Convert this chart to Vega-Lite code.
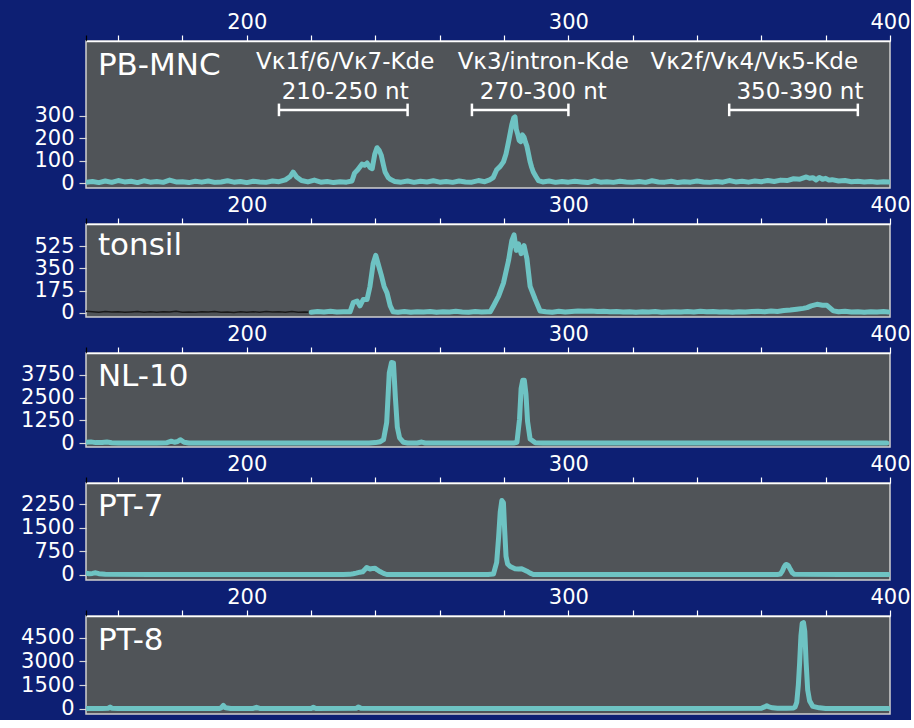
{
  "$schema": "https://vega.github.io/schema/vega-lite/v6.json",
  "background": "#0d1f73",
  "padding": {"left": 19, "top": 10, "right": 0, "bottom": 0},
  "spacing": 36,
  "bounds": "flush",
  "config": {
    "font": "DejaVu Sans",
    "view": {"fill": "#505458", "stroke": "#cfcfcf", "strokeWidth": 1.5},
    "axis": {"labelColor": "white", "labelFont": "DejaVu Sans", "labelFontSize": 21, "tickColor": "white", "domainColor": "white", "grid": false, "title": null, "tickWidth": 1.2, "domainWidth": 1.5},
    "axisY": {"labelOverlap": false, "format": "d", "tickCount": 10},
    "line": {"color": "#6ec3c3", "strokeWidth": 5, "strokeJoin": "round", "strokeCap": "round"}
  },
  "datasets": {
    "traces": [
      {"p":"PB-MNC","s":"m","x":150,"y":5},{"p":"PB-MNC","s":"m","x":152,"y":8},{"p":"PB-MNC","s":"m","x":154,"y":3},{"p":"PB-MNC","s":"m","x":156,"y":10},{"p":"PB-MNC","s":"m","x":158,"y":4},{"p":"PB-MNC","s":"m","x":160,"y":12},{"p":"PB-MNC","s":"m","x":162,"y":6},{"p":"PB-MNC","s":"m","x":164,"y":9},{"p":"PB-MNC","s":"m","x":166,"y":3},{"p":"PB-MNC","s":"m","x":168,"y":11},{"p":"PB-MNC","s":"m","x":170,"y":5},{"p":"PB-MNC","s":"m","x":172,"y":8},{"p":"PB-MNC","s":"m","x":174,"y":4},{"p":"PB-MNC","s":"m","x":176,"y":14},{"p":"PB-MNC","s":"m","x":178,"y":6},{"p":"PB-MNC","s":"m","x":180,"y":7},{"p":"PB-MNC","s":"m","x":182,"y":3},{"p":"PB-MNC","s":"m","x":184,"y":9},{"p":"PB-MNC","s":"m","x":186,"y":5},{"p":"PB-MNC","s":"m","x":188,"y":10},{"p":"PB-MNC","s":"m","x":190,"y":4},{"p":"PB-MNC","s":"m","x":192,"y":6},{"p":"PB-MNC","s":"m","x":194,"y":11},{"p":"PB-MNC","s":"m","x":196,"y":5},{"p":"PB-MNC","s":"m","x":198,"y":8},{"p":"PB-MNC","s":"m","x":200,"y":3},{"p":"PB-MNC","s":"m","x":202,"y":9},{"p":"PB-MNC","s":"m","x":204,"y":6},{"p":"PB-MNC","s":"m","x":206,"y":4},{"p":"PB-MNC","s":"m","x":208,"y":10},{"p":"PB-MNC","s":"m","x":210,"y":7},{"p":"PB-MNC","s":"m","x":212,"y":15},{"p":"PB-MNC","s":"m","x":213.5,"y":30},{"p":"PB-MNC","s":"m","x":214.4,"y":50},{"p":"PB-MNC","s":"m","x":215.5,"y":28},{"p":"PB-MNC","s":"m","x":217,"y":12},{"p":"PB-MNC","s":"m","x":219,"y":6},{"p":"PB-MNC","s":"m","x":221,"y":14},{"p":"PB-MNC","s":"m","x":223,"y":5},{"p":"PB-MNC","s":"m","x":225,"y":8},{"p":"PB-MNC","s":"m","x":227,"y":3},{"p":"PB-MNC","s":"m","x":229,"y":7},{"p":"PB-MNC","s":"m","x":231,"y":5},{"p":"PB-MNC","s":"m","x":232.7,"y":10},{"p":"PB-MNC","s":"m","x":233.5,"y":45},{"p":"PB-MNC","s":"m","x":234.5,"y":60},{"p":"PB-MNC","s":"m","x":235.8,"y":85},{"p":"PB-MNC","s":"m","x":236.6,"y":80},{"p":"PB-MNC","s":"m","x":237.4,"y":90},{"p":"PB-MNC","s":"m","x":238.3,"y":70},{"p":"PB-MNC","s":"m","x":239,"y":65},{"p":"PB-MNC","s":"m","x":239.8,"y":130},{"p":"PB-MNC","s":"m","x":240.5,"y":158},{"p":"PB-MNC","s":"m","x":241.2,"y":145},{"p":"PB-MNC","s":"m","x":241.8,"y":125},{"p":"PB-MNC","s":"m","x":242.5,"y":80},{"p":"PB-MNC","s":"m","x":243,"y":50},{"p":"PB-MNC","s":"m","x":244,"y":25},{"p":"PB-MNC","s":"m","x":244.6,"y":18},{"p":"PB-MNC","s":"m","x":246,"y":8},{"p":"PB-MNC","s":"m","x":248,"y":5},{"p":"PB-MNC","s":"m","x":250,"y":10},{"p":"PB-MNC","s":"m","x":252,"y":4},{"p":"PB-MNC","s":"m","x":254,"y":9},{"p":"PB-MNC","s":"m","x":256,"y":6},{"p":"PB-MNC","s":"m","x":258,"y":11},{"p":"PB-MNC","s":"m","x":260,"y":5},{"p":"PB-MNC","s":"m","x":262,"y":8},{"p":"PB-MNC","s":"m","x":264,"y":4},{"p":"PB-MNC","s":"m","x":266,"y":10},{"p":"PB-MNC","s":"m","x":268,"y":6},{"p":"PB-MNC","s":"m","x":270,"y":5},{"p":"PB-MNC","s":"m","x":272,"y":12},{"p":"PB-MNC","s":"m","x":274,"y":7},{"p":"PB-MNC","s":"m","x":275.5,"y":15},{"p":"PB-MNC","s":"m","x":276.6,"y":25},{"p":"PB-MNC","s":"m","x":277.7,"y":60},{"p":"PB-MNC","s":"m","x":278.8,"y":75},{"p":"PB-MNC","s":"m","x":279.8,"y":95},{"p":"PB-MNC","s":"m","x":280.6,"y":130},{"p":"PB-MNC","s":"m","x":281.4,"y":185},{"p":"PB-MNC","s":"m","x":282,"y":230},{"p":"PB-MNC","s":"m","x":282.4,"y":260},{"p":"PB-MNC","s":"m","x":283,"y":290},{"p":"PB-MNC","s":"m","x":283.4,"y":295},{"p":"PB-MNC","s":"m","x":283.8,"y":240},{"p":"PB-MNC","s":"m","x":284.2,"y":220},{"p":"PB-MNC","s":"m","x":284.7,"y":190},{"p":"PB-MNC","s":"m","x":285.2,"y":185},{"p":"PB-MNC","s":"m","x":285.7,"y":215},{"p":"PB-MNC","s":"m","x":286.2,"y":205},{"p":"PB-MNC","s":"m","x":286.7,"y":180},{"p":"PB-MNC","s":"m","x":287.1,"y":165},{"p":"PB-MNC","s":"m","x":287.6,"y":130},{"p":"PB-MNC","s":"m","x":288.1,"y":95},{"p":"PB-MNC","s":"m","x":288.6,"y":70},{"p":"PB-MNC","s":"m","x":289.1,"y":50},{"p":"PB-MNC","s":"m","x":289.9,"y":30},{"p":"PB-MNC","s":"m","x":290.7,"y":12},{"p":"PB-MNC","s":"m","x":292,"y":6},{"p":"PB-MNC","s":"m","x":294,"y":10},{"p":"PB-MNC","s":"m","x":296,"y":4},{"p":"PB-MNC","s":"m","x":298,"y":8},{"p":"PB-MNC","s":"m","x":300,"y":5},{"p":"PB-MNC","s":"m","x":302,"y":9},{"p":"PB-MNC","s":"m","x":304,"y":6},{"p":"PB-MNC","s":"m","x":306,"y":3},{"p":"PB-MNC","s":"m","x":308,"y":11},{"p":"PB-MNC","s":"m","x":310,"y":5},{"p":"PB-MNC","s":"m","x":312,"y":7},{"p":"PB-MNC","s":"m","x":314,"y":4},{"p":"PB-MNC","s":"m","x":316,"y":9},{"p":"PB-MNC","s":"m","x":318,"y":6},{"p":"PB-MNC","s":"m","x":320,"y":5},{"p":"PB-MNC","s":"m","x":322,"y":8},{"p":"PB-MNC","s":"m","x":324,"y":4},{"p":"PB-MNC","s":"m","x":326,"y":11},{"p":"PB-MNC","s":"m","x":328,"y":6},{"p":"PB-MNC","s":"m","x":330,"y":5},{"p":"PB-MNC","s":"m","x":332,"y":9},{"p":"PB-MNC","s":"m","x":334,"y":3},{"p":"PB-MNC","s":"m","x":336,"y":7},{"p":"PB-MNC","s":"m","x":338,"y":5},{"p":"PB-MNC","s":"m","x":340,"y":10},{"p":"PB-MNC","s":"m","x":342,"y":6},{"p":"PB-MNC","s":"m","x":344,"y":4},{"p":"PB-MNC","s":"m","x":346,"y":8},{"p":"PB-MNC","s":"m","x":348,"y":5},{"p":"PB-MNC","s":"m","x":350,"y":12},{"p":"PB-MNC","s":"m","x":352,"y":6},{"p":"PB-MNC","s":"m","x":354,"y":9},{"p":"PB-MNC","s":"m","x":356,"y":5},{"p":"PB-MNC","s":"m","x":358,"y":10},{"p":"PB-MNC","s":"m","x":360,"y":7},{"p":"PB-MNC","s":"m","x":362,"y":12},{"p":"PB-MNC","s":"m","x":364,"y":8},{"p":"PB-MNC","s":"m","x":366,"y":14},{"p":"PB-MNC","s":"m","x":368,"y":12},{"p":"PB-MNC","s":"m","x":370,"y":20},{"p":"PB-MNC","s":"m","x":372,"y":18},{"p":"PB-MNC","s":"m","x":374,"y":28},{"p":"PB-MNC","s":"m","x":375,"y":22},{"p":"PB-MNC","s":"m","x":376,"y":25},{"p":"PB-MNC","s":"m","x":377,"y":15},{"p":"PB-MNC","s":"m","x":378,"y":26},{"p":"PB-MNC","s":"m","x":379,"y":18},{"p":"PB-MNC","s":"m","x":380,"y":22},{"p":"PB-MNC","s":"m","x":381,"y":14},{"p":"PB-MNC","s":"m","x":382,"y":16},{"p":"PB-MNC","s":"m","x":384,"y":10},{"p":"PB-MNC","s":"m","x":386,"y":12},{"p":"PB-MNC","s":"m","x":388,"y":7},{"p":"PB-MNC","s":"m","x":390,"y":9},{"p":"PB-MNC","s":"m","x":392,"y":6},{"p":"PB-MNC","s":"m","x":394,"y":8},{"p":"PB-MNC","s":"m","x":396,"y":5},{"p":"PB-MNC","s":"m","x":398,"y":7},{"p":"PB-MNC","s":"m","x":400,"y":6},

      {"p":"tonsil","s":"b","x":150,"y":12},{"p":"tonsil","s":"b","x":152,"y":8},{"p":"tonsil","s":"b","x":154,"y":5},{"p":"tonsil","s":"b","x":156,"y":10},{"p":"tonsil","s":"b","x":158,"y":6},{"p":"tonsil","s":"b","x":160,"y":9},{"p":"tonsil","s":"b","x":162,"y":4},{"p":"tonsil","s":"b","x":164,"y":7},{"p":"tonsil","s":"b","x":166,"y":11},{"p":"tonsil","s":"b","x":168,"y":5},{"p":"tonsil","s":"b","x":170,"y":8},{"p":"tonsil","s":"b","x":172,"y":4},{"p":"tonsil","s":"b","x":174,"y":9},{"p":"tonsil","s":"b","x":176,"y":6},{"p":"tonsil","s":"b","x":178,"y":12},{"p":"tonsil","s":"b","x":180,"y":5},{"p":"tonsil","s":"b","x":182,"y":7},{"p":"tonsil","s":"b","x":184,"y":4},{"p":"tonsil","s":"b","x":186,"y":9},{"p":"tonsil","s":"b","x":188,"y":6},{"p":"tonsil","s":"b","x":190,"y":10},{"p":"tonsil","s":"b","x":192,"y":5},{"p":"tonsil","s":"b","x":194,"y":7},{"p":"tonsil","s":"b","x":196,"y":3},{"p":"tonsil","s":"b","x":198,"y":8},{"p":"tonsil","s":"b","x":200,"y":5},{"p":"tonsil","s":"b","x":202,"y":9},{"p":"tonsil","s":"b","x":204,"y":4},{"p":"tonsil","s":"b","x":206,"y":10},{"p":"tonsil","s":"b","x":208,"y":6},{"p":"tonsil","s":"b","x":210,"y":8},{"p":"tonsil","s":"b","x":212,"y":4},{"p":"tonsil","s":"b","x":214,"y":11},{"p":"tonsil","s":"b","x":216,"y":5},{"p":"tonsil","s":"b","x":218,"y":7},{"p":"tonsil","s":"b","x":220,"y":4},
      {"p":"tonsil","s":"m","x":220,"y":4},{"p":"tonsil","s":"m","x":222,"y":10},{"p":"tonsil","s":"m","x":224,"y":7},{"p":"tonsil","s":"m","x":226,"y":12},{"p":"tonsil","s":"m","x":228,"y":6},{"p":"tonsil","s":"m","x":230,"y":9},{"p":"tonsil","s":"m","x":232.1,"y":8},{"p":"tonsil","s":"m","x":233.1,"y":80},{"p":"tonsil","s":"m","x":234.3,"y":93},{"p":"tonsil","s":"m","x":235.2,"y":54},{"p":"tonsil","s":"m","x":236.2,"y":105},{"p":"tonsil","s":"m","x":237.4,"y":105},{"p":"tonsil","s":"m","x":238.3,"y":208},{"p":"tonsil","s":"m","x":239.3,"y":389},{"p":"tonsil","s":"m","x":240.1,"y":453},{"p":"tonsil","s":"m","x":240.8,"y":389},{"p":"tonsil","s":"m","x":241.8,"y":299},{"p":"tonsil","s":"m","x":242.7,"y":208},{"p":"tonsil","s":"m","x":243.6,"y":157},{"p":"tonsil","s":"m","x":244.6,"y":54},{"p":"tonsil","s":"m","x":245.5,"y":8},{"p":"tonsil","s":"m","x":247,"y":5},{"p":"tonsil","s":"m","x":249,"y":10},{"p":"tonsil","s":"m","x":251,"y":4},{"p":"tonsil","s":"m","x":253,"y":8},{"p":"tonsil","s":"m","x":255,"y":6},{"p":"tonsil","s":"m","x":257,"y":11},{"p":"tonsil","s":"m","x":259,"y":5},{"p":"tonsil","s":"m","x":261,"y":9},{"p":"tonsil","s":"m","x":263,"y":6},{"p":"tonsil","s":"m","x":265,"y":12},{"p":"tonsil","s":"m","x":267,"y":7},{"p":"tonsil","s":"m","x":269,"y":5},{"p":"tonsil","s":"m","x":271,"y":10},{"p":"tonsil","s":"m","x":273,"y":6},{"p":"tonsil","s":"m","x":275,"y":9},{"p":"tonsil","s":"m","x":275.7,"y":8},{"p":"tonsil","s":"m","x":276.7,"y":54},{"p":"tonsil","s":"m","x":278.3,"y":131},{"p":"tonsil","s":"m","x":279.8,"y":234},{"p":"tonsil","s":"m","x":281.4,"y":414},{"p":"tonsil","s":"m","x":282.4,"y":569},{"p":"tonsil","s":"m","x":283.1,"y":615},{"p":"tonsil","s":"m","x":283.8,"y":492},{"p":"tonsil","s":"m","x":284.5,"y":543},{"p":"tonsil","s":"m","x":285.3,"y":466},{"p":"tonsil","s":"m","x":286.2,"y":530},{"p":"tonsil","s":"m","x":287.1,"y":427},{"p":"tonsil","s":"m","x":288.1,"y":208},{"p":"tonsil","s":"m","x":289.7,"y":105},{"p":"tonsil","s":"m","x":291.2,"y":15},{"p":"tonsil","s":"m","x":293,"y":8},{"p":"tonsil","s":"m","x":295,"y":5},{"p":"tonsil","s":"m","x":297,"y":12},{"p":"tonsil","s":"m","x":299,"y":7},{"p":"tonsil","s":"m","x":301,"y":10},{"p":"tonsil","s":"m","x":303,"y":14},{"p":"tonsil","s":"m","x":305,"y":12},{"p":"tonsil","s":"m","x":307,"y":15},{"p":"tonsil","s":"m","x":309,"y":10},{"p":"tonsil","s":"m","x":311,"y":13},{"p":"tonsil","s":"m","x":313,"y":8},{"p":"tonsil","s":"m","x":315,"y":10},{"p":"tonsil","s":"m","x":317,"y":6},{"p":"tonsil","s":"m","x":319,"y":9},{"p":"tonsil","s":"m","x":321,"y":5},{"p":"tonsil","s":"m","x":323,"y":8},{"p":"tonsil","s":"m","x":325,"y":6},{"p":"tonsil","s":"m","x":327,"y":10},{"p":"tonsil","s":"m","x":329,"y":5},{"p":"tonsil","s":"m","x":331,"y":7},{"p":"tonsil","s":"m","x":333,"y":9},{"p":"tonsil","s":"m","x":335,"y":6},{"p":"tonsil","s":"m","x":337,"y":11},{"p":"tonsil","s":"m","x":339,"y":7},{"p":"tonsil","s":"m","x":341,"y":12},{"p":"tonsil","s":"m","x":343,"y":8},{"p":"tonsil","s":"m","x":345,"y":10},{"p":"tonsil","s":"m","x":347,"y":6},{"p":"tonsil","s":"m","x":349,"y":9},{"p":"tonsil","s":"m","x":351,"y":5},{"p":"tonsil","s":"m","x":353,"y":8},{"p":"tonsil","s":"m","x":355,"y":6},{"p":"tonsil","s":"m","x":357,"y":10},{"p":"tonsil","s":"m","x":359,"y":12},{"p":"tonsil","s":"m","x":361,"y":9},{"p":"tonsil","s":"m","x":363,"y":14},{"p":"tonsil","s":"m","x":365,"y":10},{"p":"tonsil","s":"m","x":367,"y":18},{"p":"tonsil","s":"m","x":369,"y":22},{"p":"tonsil","s":"m","x":371,"y":28},{"p":"tonsil","s":"m","x":373,"y":35},{"p":"tonsil","s":"m","x":374.2,"y":41},{"p":"tonsil","s":"m","x":375.5,"y":55},{"p":"tonsil","s":"m","x":377.3,"y":67},{"p":"tonsil","s":"m","x":379,"y":60},{"p":"tonsil","s":"m","x":380.4,"y":59},{"p":"tonsil","s":"m","x":382.4,"y":15},{"p":"tonsil","s":"m","x":384,"y":8},{"p":"tonsil","s":"m","x":386,"y":12},{"p":"tonsil","s":"m","x":388,"y":6},{"p":"tonsil","s":"m","x":390,"y":9},{"p":"tonsil","s":"m","x":392,"y":5},{"p":"tonsil","s":"m","x":394,"y":8},{"p":"tonsil","s":"m","x":396,"y":6},{"p":"tonsil","s":"m","x":398,"y":10},{"p":"tonsil","s":"m","x":399.5,"y":7},

      {"p":"NL-10","s":"m","x":150,"y":60},{"p":"NL-10","s":"m","x":151.5,"y":80},{"p":"NL-10","s":"m","x":153,"y":40},{"p":"NL-10","s":"m","x":155,"y":45},{"p":"NL-10","s":"m","x":156.5,"y":70},{"p":"NL-10","s":"m","x":158,"y":30},{"p":"NL-10","s":"m","x":160,"y":20},{"p":"NL-10","s":"m","x":163,"y":15},{"p":"NL-10","s":"m","x":166,"y":20},{"p":"NL-10","s":"m","x":169,"y":15},{"p":"NL-10","s":"m","x":172,"y":20},{"p":"NL-10","s":"m","x":175,"y":30},{"p":"NL-10","s":"m","x":176.5,"y":120},{"p":"NL-10","s":"m","x":177.5,"y":60},{"p":"NL-10","s":"m","x":178.5,"y":100},{"p":"NL-10","s":"m","x":179.3,"y":200},{"p":"NL-10","s":"m","x":180.5,"y":60},{"p":"NL-10","s":"m","x":182,"y":20},{"p":"NL-10","s":"m","x":190,"y":15},{"p":"NL-10","s":"m","x":200,"y":15},{"p":"NL-10","s":"m","x":210,"y":15},{"p":"NL-10","s":"m","x":220,"y":15},{"p":"NL-10","s":"m","x":230,"y":15},{"p":"NL-10","s":"m","x":238,"y":20},{"p":"NL-10","s":"m","x":240,"y":40},{"p":"NL-10","s":"m","x":241.5,"y":90},{"p":"NL-10","s":"m","x":242.5,"y":200},{"p":"NL-10","s":"m","x":243.5,"y":1140},{"p":"NL-10","s":"m","x":244.3,"y":3855},{"p":"NL-10","s":"m","x":245,"y":4420},{"p":"NL-10","s":"m","x":245.6,"y":4400},{"p":"NL-10","s":"m","x":246.2,"y":2500},{"p":"NL-10","s":"m","x":246.8,"y":900},{"p":"NL-10","s":"m","x":247.5,"y":300},{"p":"NL-10","s":"m","x":248.7,"y":60},{"p":"NL-10","s":"m","x":250,"y":20},{"p":"NL-10","s":"m","x":253,"y":20},{"p":"NL-10","s":"m","x":254.4,"y":70},{"p":"NL-10","s":"m","x":255.5,"y":20},{"p":"NL-10","s":"m","x":265,"y":15},{"p":"NL-10","s":"m","x":275,"y":15},{"p":"NL-10","s":"m","x":283,"y":20},{"p":"NL-10","s":"m","x":284,"y":60},{"p":"NL-10","s":"m","x":284.8,"y":1320},{"p":"NL-10","s":"m","x":285.3,"y":3000},{"p":"NL-10","s":"m","x":285.8,"y":3450},{"p":"NL-10","s":"m","x":286.3,"y":3450},{"p":"NL-10","s":"m","x":286.8,"y":2700},{"p":"NL-10","s":"m","x":287.3,"y":1200},{"p":"NL-10","s":"m","x":288.1,"y":235},{"p":"NL-10","s":"m","x":289.7,"y":30},{"p":"NL-10","s":"m","x":292,"y":15},{"p":"NL-10","s":"m","x":310,"y":15},{"p":"NL-10","s":"m","x":330,"y":15},{"p":"NL-10","s":"m","x":350,"y":15},{"p":"NL-10","s":"m","x":370,"y":15},{"p":"NL-10","s":"m","x":390,"y":15},{"p":"NL-10","s":"m","x":399,"y":15},

      {"p":"PT-7","s":"m","x":150,"y":60},{"p":"PT-7","s":"m","x":151,"y":40},{"p":"PT-7","s":"m","x":152,"y":50},{"p":"PT-7","s":"m","x":153,"y":70},{"p":"PT-7","s":"m","x":154,"y":40},{"p":"PT-7","s":"m","x":156,"y":20},{"p":"PT-7","s":"m","x":170,"y":15},{"p":"PT-7","s":"m","x":190,"y":15},{"p":"PT-7","s":"m","x":210,"y":15},{"p":"PT-7","s":"m","x":230,"y":15},{"p":"PT-7","s":"m","x":232,"y":20},{"p":"PT-7","s":"m","x":233.1,"y":40},{"p":"PT-7","s":"m","x":234,"y":60},{"p":"PT-7","s":"m","x":235.2,"y":90},{"p":"PT-7","s":"m","x":236,"y":100},{"p":"PT-7","s":"m","x":236.8,"y":180},{"p":"PT-7","s":"m","x":237.3,"y":240},{"p":"PT-7","s":"m","x":238.3,"y":190},{"p":"PT-7","s":"m","x":239.2,"y":210},{"p":"PT-7","s":"m","x":239.9,"y":215},{"p":"PT-7","s":"m","x":240.6,"y":160},{"p":"PT-7","s":"m","x":241.4,"y":110},{"p":"PT-7","s":"m","x":242.5,"y":50},{"p":"PT-7","s":"m","x":243.5,"y":15},{"p":"PT-7","s":"m","x":260,"y":15},{"p":"PT-7","s":"m","x":275,"y":15},{"p":"PT-7","s":"m","x":276.7,"y":30},{"p":"PT-7","s":"m","x":277.7,"y":400},{"p":"PT-7","s":"m","x":278.3,"y":1200},{"p":"PT-7","s":"m","x":278.8,"y":2000},{"p":"PT-7","s":"m","x":279.3,"y":2370},{"p":"PT-7","s":"m","x":279.8,"y":2300},{"p":"PT-7","s":"m","x":280.2,"y":1400},{"p":"PT-7","s":"m","x":280.6,"y":600},{"p":"PT-7","s":"m","x":281.1,"y":350},{"p":"PT-7","s":"m","x":281.9,"y":270},{"p":"PT-7","s":"m","x":283.4,"y":200},{"p":"PT-7","s":"m","x":284.5,"y":190},{"p":"PT-7","s":"m","x":285.5,"y":195},{"p":"PT-7","s":"m","x":286.3,"y":160},{"p":"PT-7","s":"m","x":287.1,"y":120},{"p":"PT-7","s":"m","x":288.1,"y":60},{"p":"PT-7","s":"m","x":289.1,"y":15},{"p":"PT-7","s":"m","x":320,"y":15},{"p":"PT-7","s":"m","x":350,"y":15},{"p":"PT-7","s":"m","x":365,"y":15},{"p":"PT-7","s":"m","x":365.9,"y":30},{"p":"PT-7","s":"m","x":366.5,"y":120},{"p":"PT-7","s":"m","x":367,"y":240},{"p":"PT-7","s":"m","x":367.5,"y":320},{"p":"PT-7","s":"m","x":367.9,"y":335},{"p":"PT-7","s":"m","x":368.4,"y":300},{"p":"PT-7","s":"m","x":369,"y":180},{"p":"PT-7","s":"m","x":369.6,"y":70},{"p":"PT-7","s":"m","x":370.3,"y":20},{"p":"PT-7","s":"m","x":385,"y":15},{"p":"PT-7","s":"m","x":399.5,"y":15},

      {"p":"PT-8","s":"m","x":150,"y":15},{"p":"PT-8","s":"m","x":155,"y":15},{"p":"PT-8","s":"m","x":157,"y":40},{"p":"PT-8","s":"m","x":157.5,"y":110},{"p":"PT-8","s":"m","x":158,"y":40},{"p":"PT-8","s":"m","x":160,"y":15},{"p":"PT-8","s":"m","x":180,"y":15},{"p":"PT-8","s":"m","x":191.5,"y":20},{"p":"PT-8","s":"m","x":192,"y":60},{"p":"PT-8","s":"m","x":192.7,"y":220},{"p":"PT-8","s":"m","x":193.4,"y":60},{"p":"PT-8","s":"m","x":195,"y":15},{"p":"PT-8","s":"m","x":202,"y":20},{"p":"PT-8","s":"m","x":203,"y":90},{"p":"PT-8","s":"m","x":204,"y":20},{"p":"PT-8","s":"m","x":220,"y":20},{"p":"PT-8","s":"m","x":220.7,"y":90},{"p":"PT-8","s":"m","x":221.5,"y":20},{"p":"PT-8","s":"m","x":234,"y":30},{"p":"PT-8","s":"m","x":234.7,"y":110},{"p":"PT-8","s":"m","x":235.5,"y":30},{"p":"PT-8","s":"m","x":260,"y":15},{"p":"PT-8","s":"m","x":300,"y":15},{"p":"PT-8","s":"m","x":340,"y":15},{"p":"PT-8","s":"m","x":360,"y":30},{"p":"PT-8","s":"m","x":361,"y":120},{"p":"PT-8","s":"m","x":361.7,"y":190},{"p":"PT-8","s":"m","x":362.4,"y":120},{"p":"PT-8","s":"m","x":363.5,"y":60},{"p":"PT-8","s":"m","x":365,"y":40},{"p":"PT-8","s":"m","x":368,"y":30},{"p":"PT-8","s":"m","x":370,"y":50},{"p":"PT-8","s":"m","x":370.5,"y":120},{"p":"PT-8","s":"m","x":371,"y":400},{"p":"PT-8","s":"m","x":371.5,"y":1500},{"p":"PT-8","s":"m","x":371.9,"y":2900},{"p":"PT-8","s":"m","x":372.3,"y":4600},{"p":"PT-8","s":"m","x":372.7,"y":5400},{"p":"PT-8","s":"m","x":373.1,"y":5450},{"p":"PT-8","s":"m","x":373.5,"y":4900},{"p":"PT-8","s":"m","x":373.9,"y":3000},{"p":"PT-8","s":"m","x":374.4,"y":1200},{"p":"PT-8","s":"m","x":375,"y":500},{"p":"PT-8","s":"m","x":376,"y":150},{"p":"PT-8","s":"m","x":378,"y":60},{"p":"PT-8","s":"m","x":380,"y":20},{"p":"PT-8","s":"m","x":399.5,"y":15}
    ],
    "names": [
      {"p":"PB-MNC","x":153.7,"y":481},
      {"p":"tonsil","x":153.7,"y":457},
      {"p":"NL-10","x":153.7,"y":3116},
      {"p":"PT-7","x":153.7,"y":1877},
      {"p":"PT-8","x":153.7,"y":3736}
    ]
  },
  "vconcat": [
    {
      "width": 804, "height": 147,
      "layer": [
        {
          "data": {"name": "traces"},
          "transform": [{"filter": "datum.p == 'PB-MNC'"}],
          "mark": {"type": "line", "clip": true},
          "encoding": {
            "x": {"field": "x", "type": "quantitative", "scale": {"domain": [150, 400], "nice": false, "zero": false},
                  "axis": {"orient": "top", "values": [150,160,180,200,220,240,260,280,300,320,340,360,380,400], "tickCount": 30, "labelExpr": "datum.value % 100 == 0 ? datum.label : ''", "tickSize": 6, "labelPadding": 3, "labelFlush": false, "labelOverlap": false, "tickColor": {"condition": {"test": "datum.value == 150", "value": "black"}, "value": "white"}}},
            "y": {"field": "y", "type": "quantitative", "scale": {"domain": [-21, 632], "nice": false, "zero": false},
                  "axis": {"values": [0, 100, 200, 300], "tickCount": 10, "tickSize": 7, "labelPadding": 5, "domain": false, "tickColor": "#d6d6d6", "labelOverlap": false, "format": "d"}}
          }
        },
        {
          "data": {"values": [
            {"x": 230.6, "y": 508, "t": "Vκ1f/6/Vκ7-Kde"},
            {"x": 230.6, "y": 374, "t": "210-250 nt"},
            {"x": 292.2, "y": 508, "t": "Vκ3/intron-Kde"},
            {"x": 292.2, "y": 374, "t": "270-300 nt"},
            {"x": 357.8, "y": 508, "t": "Vκ2f/Vκ4/Vκ5-Kde"},
            {"x": 372, "y": 374, "t": "350-390 nt"}
          ]},
          "mark": {"type": "text", "color": "white", "fontSize": 23, "align": "center", "baseline": "alphabetic", "font": "DejaVu Sans"},
          "encoding": {
            "x": {"field": "x", "type": "quantitative"},
            "y": {"field": "y", "type": "quantitative"},
            "text": {"field": "t"}
          }
        },
        {
          "data": {"values": [
            {"x": 210, "x2": 250, "y": 326},
            {"x": 270, "x2": 300, "y": 326},
            {"x": 350, "x2": 390, "y": 326}
          ]},
          "mark": {"type": "rule", "color": "white", "strokeWidth": 2.5},
          "encoding": {
            "x": {"field": "x", "type": "quantitative"},
            "x2": {"field": "x2"},
            "y": {"field": "y", "type": "quantitative"}
          }
        },
        {
          "data": {"values": [
            {"x": 210, "y": 298, "y2": 354},
            {"x": 250, "y": 298, "y2": 354},
            {"x": 270, "y": 298, "y2": 354},
            {"x": 300, "y": 298, "y2": 354},
            {"x": 350, "y": 298, "y2": 354},
            {"x": 390, "y": 298, "y2": 354}
          ]},
          "mark": {"type": "rule", "color": "white", "strokeWidth": 2.5},
          "encoding": {
            "x": {"field": "x", "type": "quantitative"},
            "y": {"field": "y", "type": "quantitative"},
            "y2": {"field": "y2"}
          }
        },
        {
          "data": {"name": "names"},
          "transform": [{"filter": "datum.p == 'PB-MNC'"}],
          "mark": {"type": "text", "color": "white", "fontSize": 31, "align": "left", "baseline": "alphabetic", "font": "DejaVu Sans"},
          "encoding": {
            "x": {"field": "x", "type": "quantitative"},
            "y": {"field": "y", "type": "quantitative"},
            "text": {"field": "p"}
          }
        }
      ]
    },
    {
      "width": 804, "height": 93,
      "layer": [
        {
          "data": {"name": "traces"},
          "transform": [{"filter": "datum.p == 'tonsil' && datum.s == 'b'"}],
          "mark": {"type": "line", "clip": true, "color": "#1a1a1a", "strokeWidth": 1.5},
          "encoding": {
            "x": {"field": "x", "type": "quantitative", "scale": {"domain": [150, 400], "nice": false, "zero": false},
                  "axis": {"orient": "top", "values": [150,160,180,200,220,240,260,280,300,320,340,360,380,400], "tickCount": 30, "labelExpr": "datum.value % 100 == 0 ? datum.label : ''", "tickSize": 6, "labelPadding": 3, "labelFlush": false, "labelOverlap": false, "tickColor": {"condition": {"test": "datum.value == 150", "value": "black"}, "value": "white"}}},
            "y": {"field": "y", "type": "quantitative", "scale": {"domain": [-33, 700], "nice": false, "zero": false},
                  "axis": {"values": [0, 175, 350, 525], "tickCount": 10, "tickSize": 7, "labelPadding": 5, "domain": false, "tickColor": "#d6d6d6", "labelOverlap": false, "format": "d"}}
          }
        },
        {
          "data": {"name": "traces"},
          "transform": [{"filter": "datum.p == 'tonsil' && datum.s == 'm'"}],
          "mark": {"type": "line", "clip": true},
          "encoding": {
            "x": {"field": "x", "type": "quantitative"},
            "y": {"field": "y", "type": "quantitative"}
          }
        },
        {
          "data": {"name": "names"},
          "transform": [{"filter": "datum.p == 'tonsil'"}],
          "mark": {"type": "text", "color": "white", "fontSize": 31, "align": "left", "baseline": "alphabetic", "font": "DejaVu Sans"},
          "encoding": {
            "x": {"field": "x", "type": "quantitative"},
            "y": {"field": "y", "type": "quantitative"},
            "text": {"field": "p"}
          }
        }
      ]
    },
    {
      "width": 804, "height": 94,
      "layer": [
        {
          "data": {"name": "traces"},
          "transform": [{"filter": "datum.p == 'NL-10'"}],
          "mark": {"type": "line", "clip": true},
          "encoding": {
            "x": {"field": "x", "type": "quantitative", "scale": {"domain": [150, 400], "nice": false, "zero": false},
                  "axis": {"orient": "top", "values": [150,160,180,200,220,240,260,280,300,320,340,360,380,400], "tickCount": 30, "labelExpr": "datum.value % 100 == 0 ? datum.label : ''", "tickSize": 6, "labelPadding": 3, "labelFlush": false, "labelOverlap": false, "tickColor": {"condition": {"test": "datum.value == 150", "value": "black"}, "value": "white"}}},
            "y": {"field": "y", "type": "quantitative", "scale": {"domain": [-200, 4940], "nice": false, "zero": false},
                  "axis": {"values": [0, 1250, 2500, 3750], "tickCount": 10, "tickSize": 7, "labelPadding": 5, "domain": false, "tickColor": "#d6d6d6", "labelOverlap": false, "format": "d"}}
          }
        },
        {
          "data": {"name": "names"},
          "transform": [{"filter": "datum.p == 'NL-10'"}],
          "mark": {"type": "text", "color": "white", "fontSize": 31, "align": "left", "baseline": "alphabetic", "font": "DejaVu Sans"},
          "encoding": {
            "x": {"field": "x", "type": "quantitative"},
            "y": {"field": "y", "type": "quantitative"},
            "text": {"field": "p"}
          }
        }
      ]
    },
    {
      "width": 804, "height": 97,
      "layer": [
        {
          "data": {"name": "traces"},
          "transform": [{"filter": "datum.p == 'PT-7'"}],
          "mark": {"type": "line", "clip": true},
          "encoding": {
            "x": {"field": "x", "type": "quantitative", "scale": {"domain": [150, 400], "nice": false, "zero": false},
                  "axis": {"orient": "top", "values": [150,160,180,200,220,240,260,280,300,320,340,360,380,400], "tickCount": 30, "labelExpr": "datum.value % 100 == 0 ? datum.label : ''", "tickSize": 6, "labelPadding": 3, "labelFlush": false, "labelOverlap": false, "tickColor": {"condition": {"test": "datum.value == 150", "value": "black"}, "value": "white"}}},
            "y": {"field": "y", "type": "quantitative", "scale": {"domain": [-160, 2930], "nice": false, "zero": false},
                  "axis": {"values": [0, 750, 1500, 2250], "tickCount": 10, "tickSize": 7, "labelPadding": 5, "domain": false, "tickColor": "#d6d6d6", "labelOverlap": false, "format": "d"}}
          }
        },
        {
          "data": {"name": "names"},
          "transform": [{"filter": "datum.p == 'PT-7'"}],
          "mark": {"type": "text", "color": "white", "fontSize": 31, "align": "left", "baseline": "alphabetic", "font": "DejaVu Sans"},
          "encoding": {
            "x": {"field": "x", "type": "quantitative"},
            "y": {"field": "y", "type": "quantitative"},
            "text": {"field": "p"}
          }
        }
      ]
    },
    {
      "width": 804, "height": 98,
      "layer": [
        {
          "data": {"name": "traces"},
          "transform": [{"filter": "datum.p == 'PT-8'"}],
          "mark": {"type": "line", "clip": true},
          "encoding": {
            "x": {"field": "x", "type": "quantitative", "scale": {"domain": [150, 400], "nice": false, "zero": false},
                  "axis": {"orient": "top", "values": [150,160,180,200,220,240,260,280,300,320,340,360,380,400], "tickCount": 30, "labelExpr": "datum.value % 100 == 0 ? datum.label : ''", "tickSize": 6, "labelPadding": 3, "labelFlush": false, "labelOverlap": false, "tickColor": {"condition": {"test": "datum.value == 150", "value": "black"}, "value": "white"}}},
            "y": {"field": "y", "type": "quantitative", "scale": {"domain": [-330, 5870], "nice": false, "zero": false},
                  "axis": {"values": [0, 1500, 3000, 4500], "tickCount": 10, "tickSize": 7, "labelPadding": 5, "domain": false, "tickColor": "#d6d6d6", "labelOverlap": false, "format": "d"}}
          }
        },
        {
          "data": {"name": "names"},
          "transform": [{"filter": "datum.p == 'PT-8'"}],
          "mark": {"type": "text", "color": "white", "fontSize": 31, "align": "left", "baseline": "alphabetic", "font": "DejaVu Sans"},
          "encoding": {
            "x": {"field": "x", "type": "quantitative"},
            "y": {"field": "y", "type": "quantitative"},
            "text": {"field": "p"}
          }
        }
      ]
    }
  ]
}
